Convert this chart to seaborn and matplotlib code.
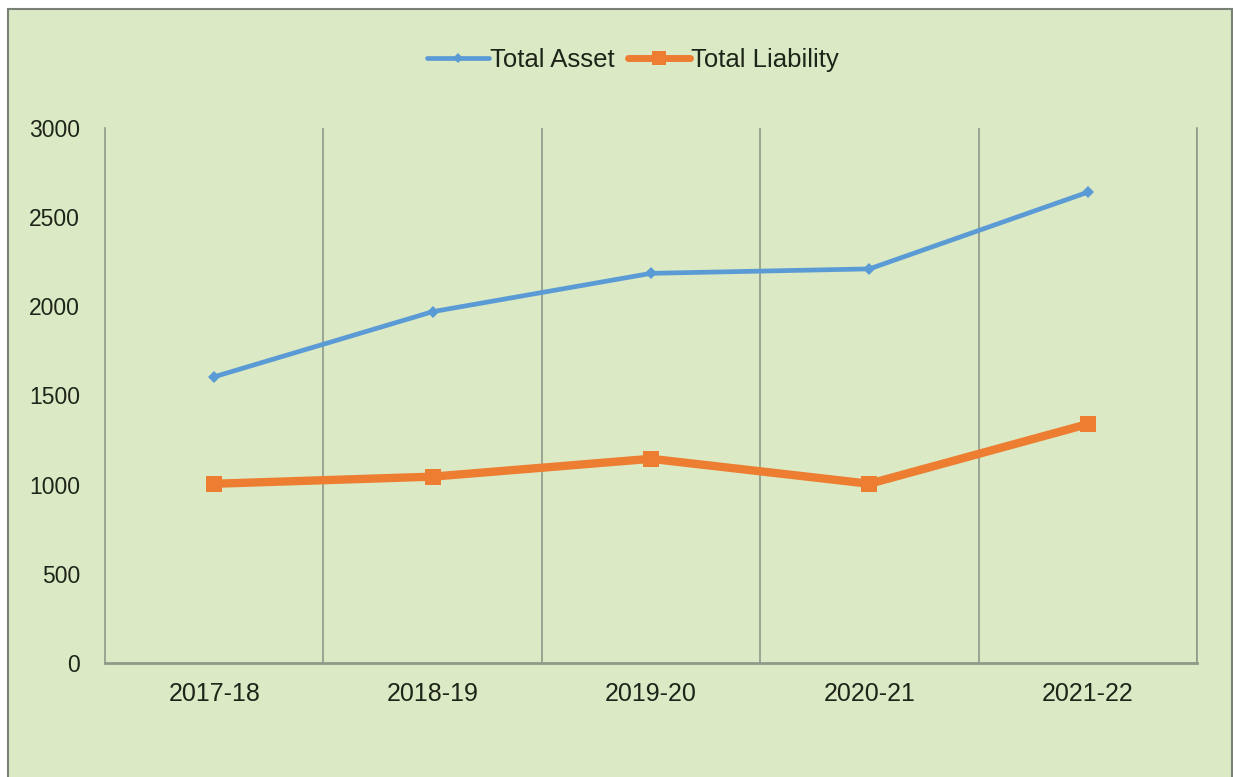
import matplotlib
matplotlib.use("Agg")
import matplotlib.pyplot as plt
import seaborn as sns
import pandas as pd
from matplotlib.patches import Rectangle

years = ["2017-18", "2018-19", "2019-20", "2020-21", "2021-22"]
total_asset = [1605, 1970, 2185, 2210, 2640]
total_liability = [1005, 1045, 1145, 1005, 1340]
y_ticks = [0, 500, 1000, 1500, 2000, 2500, 3000]

sns.set_theme(style="white")
plt.rcParams["font.family"] = ["Liberation Sans", "DejaVu Sans"]

BG = "#dbe9c5"
GRID = "#8f9a88"
TXT = "#1f2419"

fig = plt.figure(figsize=(12.33, 7.77), dpi=100, facecolor="white")
fig.patches.append(Rectangle((8 / 1233, -0.01), 1224 / 1233, 0.9984, transform=fig.transFigure,
                             facecolor=BG, edgecolor="#7b8076", lw=1.5, zorder=-10))

ax = fig.add_axes([105 / 1233, 1 - 663 / 777, 1092 / 1233, 535 / 777])
ax.set_zorder(5)
ax.set_facecolor("none")

df = pd.DataFrame({"year": years, "Total Asset": total_asset, "Total Liability": total_liability})

sns.lineplot(data=df, x="year", y="Total Asset", ax=ax, color="#5b9bd5", lw=3.4,
             marker="D", markersize=6, markeredgewidth=0, label="Total Asset", sort=False, zorder=3)
sns.lineplot(data=df, x="year", y="Total Liability", ax=ax, color="#ed7d31", lw=6,
             marker="s", markersize=11, markeredgewidth=0, label="Total Liability", sort=False, zorder=3)

ax.set_xlim(-0.5, 4.5)
ax.set_ylim(0, 3000)
ax.set_yticks(y_ticks)
ax.set_yticklabels([str(v) for v in y_ticks])
ax.set_xticks(range(len(years)))
ax.set_xticklabels(years)
ax.set_xticks([i + 0.5 for i in range(len(years))], minor=True)
ax.grid(False)
ax.grid(which="minor", axis="x", color=GRID, lw=1.2)
ax.set_xlabel("")
ax.set_ylabel("")

ax.spines["top"].set_visible(False)
for s in ["left", "bottom", "right"]:
    ax.spines[s].set_color(GRID)
    ax.spines[s].set_linewidth(1.2)
ax.spines["bottom"].set_linewidth(2)

ax.tick_params(axis="both", which="both", length=0)
ax.tick_params(axis="y", pad=18, labelsize=16.5, labelcolor=TXT)
ax.tick_params(axis="x", pad=14, labelsize=18, labelcolor=TXT)

leg = ax.legend(loc="center", bbox_to_anchor=(633 / 1233, 1 - 60 / 777), bbox_transform=fig.transFigure,
                ncol=2, frameon=False, fontsize=18.5, handlelength=2.4, columnspacing=0.5,
                handletextpad=0.05, labelcolor=TXT)
for h in leg.legend_handles:
    h.set_markersize(h.get_markersize() * 0.9)
leg.legend_handles[1].set_linewidth(5)

fig.savefig("out.png", dpi=100, facecolor=fig.get_facecolor())
